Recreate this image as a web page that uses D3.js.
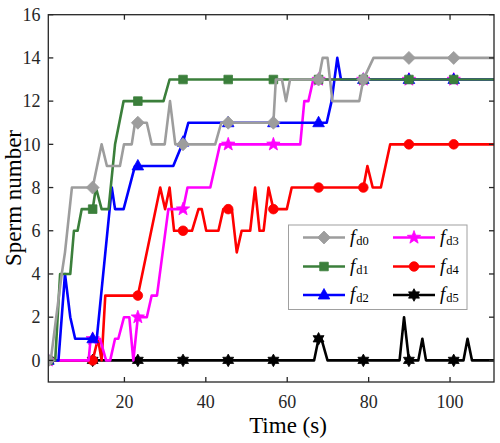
<!DOCTYPE html>
<html><head><meta charset="utf-8">
<script src="https://cdn.jsdelivr.net/npm/d3@7"></script>
<style>html,body{margin:0;padding:0;background:#fff;} svg{display:block;} text{font-family:"Liberation Serif","Times New Roman",serif;}</style>
</head><body><svg id="c" width="500" height="443"></svg>
<script>
// ---- data ----
const markerTimes = [1.3,12.2,23.3,34.4,45.5,56.6,67.7,78.7,89.9,100.9];
const xTicks = [20,40,60,80,100];
const yTicks = [0,2,4,6,8,10,12,14,16];
const seriesNames = ["fd0","fd1","fd2","fd3","fd4","fd5"];
const fd0 = [[1.3,0],[1.9,0],[4.6,4],[5.4,5],[7.1,8],[10.8,8],[12.2,8],[14.4,10],[15.7,9],[18.9,9],[19.9,10],[21.8,10],[22.6,11],[23.3,11],[25.5,11],[26.7,10],[29.9,10],[31.2,12],[32.5,10],[34.4,10],[42.3,10],[43.8,11],[45.5,11],[56.6,11],[57.2,13],[58.7,13],[59.7,12],[60.7,13],[67.7,13],[68.7,14],[69.9,14],[71.1,12],[77.7,12],[78.7,13],[81.2,14],[89.9,14],[100.9,14],[110.8,14]];
const fd1 = [[1.3,0],[3.0,0],[4.2,4],[6.7,4],[7.6,6],[8.5,6],[9.5,7],[12.2,7],[13.0,8],[14.4,7],[16.1,7],[17.7,10],[19.8,12],[23.3,12],[29.6,12],[31.1,13],[34.4,13],[45.5,13],[56.6,13],[67.7,13],[78.7,13],[89.9,13],[100.9,13],[110.8,13]];
const fd2 = [[1.3,0],[3.8,0],[5.4,4],[6.7,2],[7.9,1],[12.2,1],[13.2,1],[16.9,8],[17.7,7],[19.8,7],[22.6,9],[23.3,9],[32.0,9],[34.4,10.1],[35.7,11],[45.5,11],[56.6,11],[67.7,11],[69.7,11],[70.9,12],[72.3,14],[73.2,13],[78.7,13],[89.9,13],[100.9,13],[110.8,13]];
const fd3 = [[1.3,0],[11.2,0],[11.7,1],[12.2,1],[14.0,1],[15.5,0],[16.5,0],[17.7,1],[18.5,1],[19.9,2],[21.2,2],[22.2,0],[23.3,2],[25.5,2],[26.7,3],[28.0,3],[30.8,7],[34.4,7],[35.5,8],[41.1,8],[43.5,10],[45.5,10],[56.6,10],[63.2,10],[64.2,12],[65.2,12],[66.4,13],[67.7,13],[78.7,13],[89.9,13],[100.9,13],[110.8,13]];
const fd4 = [[1.3,0],[12.2,0],[13.5,1],[14.4,0],[15.3,3],[23.3,3],[28.8,8],[30.0,7],[31.1,8],[32.2,6],[34.4,6],[36.6,6],[38.2,7],[39.0,7],[40.1,6],[43.1,6],[44.3,7],[45.5,7],[46.4,7],[47.6,5],[48.8,6],[50.9,6],[52.1,8],[53.2,6],[54.2,6],[55.4,8],[56.6,7],[59.9,7],[61.1,8],[67.7,8],[78.7,8],[79.7,9],[81.0,8],[83.0,8],[85.3,10],[89.9,10],[100.9,10],[110.8,10]];
const fd5 = [[1.3,0],[12.2,0],[23.3,0],[34.4,0],[45.5,0],[56.6,0],[66.6,0],[67.7,1],[68.4,1],[69.9,0],[78.7,0],[87.6,0],[88.7,2],[89.9,0],[92.2,0],[93.2,1],[94.1,0],[100.9,0],[103.3,0],[104.3,1],[105.4,0],[110.8,0]];
const seriesData = [fd0, fd1, fd2, fd3, fd4, fd5];

// ---- style ----
const colors = ["#9d9d9d","#3b7f3b","#0000ff","#ff00ff","#ff0000","#000000"];
const W = 500, H = 443;
const L = 48.3, R = 494, T = 14.7, B = 382;
const svg = d3.select("#c");
const x = d3.scaleLinear().domain([1.3, 110.8]).range([L, R]);
const y = d3.scaleLinear().domain([-1, 16]).range([B, T]);

function starPath(n, ro, ri) {
  let p = "";
  for (let i = 0; i < 2*n; i++) {
    const r = i % 2 === 0 ? ro : ri;
    const a = -Math.PI/2 + i * Math.PI / n;
    p += (i ? "L" : "M") + (r*Math.cos(a)).toFixed(2) + "," + (r*Math.sin(a)).toFixed(2);
  }
  return p + "Z";
}
const shapes = [
  "M0,-6.5L6.5,0L0,6.5L-6.5,0Z",
  "M-4.3,-4.3L4.3,-4.3L4.3,4.3L-4.3,4.3Z",
  "M0,-6.5L5.8,4L-5.8,4Z",
  starPath(5, 7, 2.9),
  d3.symbol().type(d3.symbolCircle).size(Math.PI*4.8*4.8)(),
  starPath(6, 6.3, 3.6)
];

svg.append("defs").append("clipPath").attr("id","clip")
  .append("rect").attr("x",L).attr("y",T).attr("width",R-L).attr("height",B-T);

const line = d3.line().x(d => x(d[0])).y(d => y(d[1]));
const plot = svg.append("g").attr("clip-path","url(#clip)");
for (let i = seriesData.length - 1; i >= 0; i--) {
  const g = plot.append("g");
  g.append("path").datum(seriesData[i]).attr("d", line)
    .attr("fill","none").attr("stroke",colors[i]).attr("stroke-width",2.6)
    .attr("stroke-linejoin","round");
  g.selectAll("path.m").data(seriesData[i].filter(d => markerTimes.includes(d[0])))
    .enter().append("path").attr("class","m")
    .attr("d", shapes[i])
    .attr("transform", d => `translate(${x(d[0])},${y(d[1])})`)
    .attr("fill", colors[i]).attr("stroke", colors[i]).attr("stroke-width",0.8);
}

// ---- axes box & ticks ----
const ax = svg.append("g");
ax.append("rect").attr("x",L).attr("y",T).attr("width",R-L).attr("height",B-T)
  .attr("fill","none").attr("stroke","#262626").attr("stroke-width",1.3);
const tl = 5;
xTicks.forEach(v => {
  ax.append("line").attr("x1",x(v)).attr("x2",x(v)).attr("y1",B).attr("y2",B-tl).attr("stroke","#262626").attr("stroke-width",1.3);
  ax.append("line").attr("x1",x(v)).attr("x2",x(v)).attr("y1",T).attr("y2",T+tl).attr("stroke","#262626").attr("stroke-width",1.3);
  ax.append("text").attr("x",x(v)).attr("y",408).attr("text-anchor","middle")
    .attr("font-size",18).attr("fill","#262626").text(v);
});
yTicks.forEach(v => {
  ax.append("line").attr("x1",L).attr("x2",L+tl).attr("y1",y(v)).attr("y2",y(v)).attr("stroke","#262626").attr("stroke-width",1.3);
  ax.append("line").attr("x1",R).attr("x2",R-tl).attr("y1",y(v)).attr("y2",y(v)).attr("stroke","#262626").attr("stroke-width",1.3);
  ax.append("text").attr("x",40.5).attr("y",y(v)).attr("dy","0.35em").attr("text-anchor","end")
    .attr("font-size",18).attr("fill","#262626").text(v);
});
svg.append("text").attr("x",288).attr("y",433).attr("text-anchor","middle")
  .attr("font-size",23).attr("fill","#000").text("Time (s)");
svg.append("text").attr("transform","translate(20.5,198) rotate(-90)").attr("text-anchor","middle")
  .attr("font-size",23).attr("fill","#000").text("Sperm number");

// ---- legend ----
const lg = svg.append("g");
lg.append("rect").attr("x",288.5).attr("y",225).attr("width",178.5).attr("height",84.5)
  .attr("fill","#fff").attr("stroke","#a0a0a0").attr("stroke-width",1);
const rowsY = [237.5, 266.5, 295];
const colX = [303, 393];
seriesNames.forEach((nm, i) => {
  const c = Math.floor(i/3), r = i % 3;
  const x0 = colX[c], yy = rowsY[r];
  lg.append("line").attr("x1",x0).attr("x2",x0+42).attr("y1",yy).attr("y2",yy)
    .attr("stroke",colors[i]).attr("stroke-width",2.6);
  lg.append("path").attr("d",shapes[i]).attr("transform",`translate(${x0+21},${yy})`)
    .attr("fill",colors[i]).attr("stroke",colors[i]).attr("stroke-width",0.8);
  const t = lg.append("text").attr("x",x0+47).attr("y",yy+5).attr("fill","#000");
  t.append("tspan").attr("font-style","italic").attr("font-size",19).text(nm[0]);
  t.append("tspan").attr("font-size",12.5).attr("dx",1).attr("dy",2).text(nm.slice(1));
});
</script></body></html>
